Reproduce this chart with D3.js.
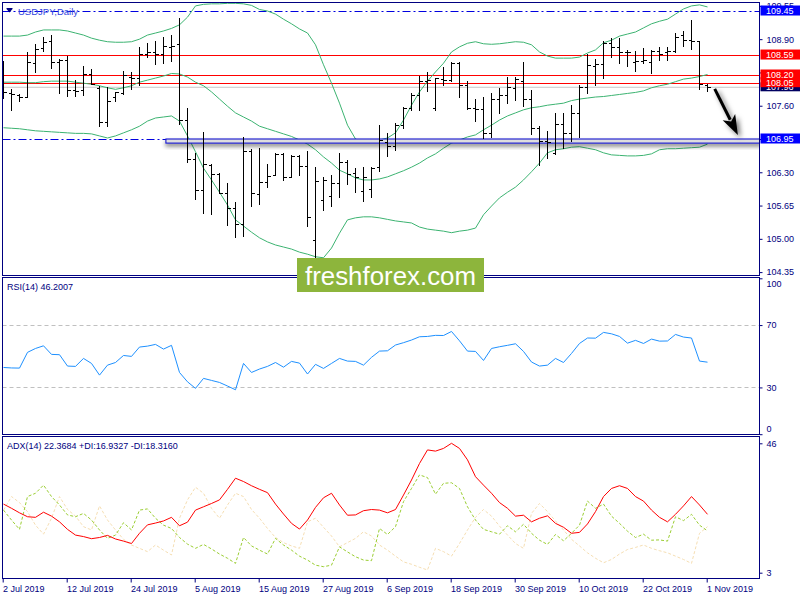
<!DOCTYPE html>
<html><head><meta charset="utf-8">
<script src="https://cdn.jsdelivr.net/npm/d3@7"></script>
<style>
body{margin:0;background:#fff}
svg{display:block}
text{font-family:"Liberation Sans",Arial,sans-serif}
</style>
</head><body>
<svg id="c" width="800" height="600"></svg>
<script>
// ---------------- DATA ----------------
const symbolTitle = "USDJPY,Daily";
const tickIdx = [0, 8, 16, 24, 32, 40, 48, 56, 64, 72, 80, 88];
const tickLabels = ["2 Jul 2019","12 Jul 2019","24 Jul 2019","5 Aug 2019","15 Aug 2019","27 Aug 2019",
  "6 Sep 2019","18 Sep 2019","30 Sep 2019","10 Oct 2019","22 Oct 2019","1 Nov 2019"];

const open = [108.30,107.84,107.80,107.78,108.44,108.73,108.86,108.45,108.49,107.91,
  107.90,108.22,107.94,107.28,107.78,107.84,108.16,108.15,108.62,108.64,
  108.61,108.75,108.81,107.33,106.55,105.95,106.44,106.27,105.90,105.60,
  105.29,106.72,105.87,106.11,106.25,106.66,106.21,106.62,106.42,104.97,
  105.76,105.84,106.10,106.51,106.28,105.93,105.97,106.40,106.90,106.81,
  107.22,107.55,107.80,108.09,107.56,108.12,108.10,108.43,108.00,107.55,
  107.54,107.07,107.74,107.81,107.94,108.09,107.73,107.16,106.91,106.67,
  107.24,107.07,107.46,107.96,108.38,108.42,108.83,108.75,108.64,108.45,
  108.47,108.46,108.67,108.64,108.67,108.98,108.88,108.86,108.00];
const high = [108.47,107.92,107.82,108.64,108.81,108.94,108.98,108.51,108.58,108.10,
  108.37,108.32,107.99,107.96,107.87,108.28,108.25,108.75,108.83,108.87,
  108.95,108.99,109.31,107.55,106.67,107.08,106.46,106.29,106.09,105.71,
  106.98,106.75,106.78,106.46,106.68,106.67,106.64,106.64,106.72,106.40,
  106.21,106.25,106.68,106.54,106.38,106.41,106.41,107.22,107.07,107.26,
  107.57,107.84,108.18,108.25,108.15,108.36,108.46,108.46,108.09,107.74,
  107.78,107.85,107.94,108.17,108.17,108.46,107.91,107.20,107.11,107.45,
  107.45,107.61,108.00,108.62,108.51,108.87,108.92,108.92,108.69,108.66,
  108.73,108.69,108.75,108.74,109.03,109.06,109.27,108.86,108.02];
const low = [107.74,107.50,107.68,107.76,108.25,108.66,108.33,107.84,107.78,107.78,
  107.80,108.02,107.19,107.19,107.68,107.81,107.91,108.00,108.55,108.41,
  108.42,108.46,107.24,106.49,105.77,105.50,105.48,105.89,105.26,105.02,
  105.04,105.63,105.68,106.01,106.23,106.14,106.20,106.23,105.24,104.62,
  105.56,105.63,105.81,106.07,105.91,105.73,105.81,106.31,106.60,106.73,
  107.16,107.50,107.50,107.87,107.50,108.00,108.07,107.76,107.52,107.29,
  106.96,106.98,107.45,107.65,107.70,107.59,107.03,106.44,106.57,106.64,
  106.77,106.90,106.97,107.83,108.00,108.13,108.55,108.43,108.36,108.27,
  108.43,108.23,108.48,108.48,108.64,108.75,108.70,107.92,107.87];
const close = [107.87,107.83,107.78,108.45,108.70,108.85,108.46,108.49,107.91,107.89,
  108.22,108.03,107.28,107.69,107.87,108.20,108.14,108.61,108.65,108.61,
  108.77,108.77,107.33,106.55,105.95,106.46,106.27,105.90,105.60,105.29,
  106.72,105.89,106.11,106.23,106.66,106.21,106.62,106.42,105.42,106.12,
  106.15,106.10,106.51,106.27,106.20,106.21,106.38,106.93,106.81,107.22,
  107.55,107.80,108.09,108.10,108.14,108.10,108.43,108.00,107.55,107.54,
  107.07,107.74,107.81,107.96,108.12,107.73,107.16,106.91,106.90,107.24,
  107.07,107.46,107.96,108.40,108.42,108.83,108.74,108.64,108.65,108.47,
  108.49,108.67,108.61,108.66,108.94,108.88,108.87,108.02,107.96];

const bbUpper = [108.96,108.96,108.96,108.98,109.04,109.08,109.08,109.08,109.06,109.02,
  108.98,108.92,108.88,108.85,108.84,108.84,108.85,108.90,108.98,109.02,
  109.06,109.11,109.18,109.33,109.55,109.58,109.59,109.59,109.60,109.60,
  109.59,109.56,109.48,109.45,109.39,109.29,109.20,109.10,109.02,108.79,
  108.40,108.04,107.65,107.22,106.95,106.89,106.91,106.93,106.97,107.07,
  107.32,107.61,107.87,108.08,108.26,108.43,108.65,108.75,108.82,108.85,
  108.81,108.80,108.81,108.83,108.85,108.84,108.79,108.65,108.57,108.53,
  108.53,108.53,108.55,108.63,108.69,108.83,108.88,108.96,109.00,109.04,
  109.12,109.20,109.25,109.29,109.39,109.49,109.55,109.57,109.53];
const bbMiddle = [108.06,108.06,108.06,108.05,108.05,108.07,108.08,108.08,108.08,108.06,
  108.04,108.02,107.99,107.95,107.92,107.95,107.99,108.06,108.10,108.14,
  108.18,108.23,108.22,108.16,108.06,107.99,107.87,107.73,107.59,107.46,
  107.38,107.30,107.20,107.15,107.10,107.05,107.00,106.93,106.85,106.74,
  106.60,106.48,106.34,106.27,106.19,106.15,106.15,106.17,106.21,106.27,
  106.33,106.40,106.48,106.58,106.66,106.77,106.87,106.93,106.99,107.03,
  107.13,107.22,107.32,107.40,107.46,107.52,107.56,107.58,107.61,107.63,
  107.65,107.70,107.73,107.75,107.77,107.78,107.80,107.82,107.84,107.86,
  107.89,107.95,107.99,108.02,108.07,108.12,108.14,108.17,108.21];
const bbLower = [107.17,107.16,107.15,107.13,107.11,107.10,107.09,107.08,107.07,107.06,
  107.06,107.05,107.01,106.97,107.01,107.07,107.13,107.20,107.30,107.36,
  107.38,107.40,107.30,107.01,106.70,106.38,106.15,105.91,105.66,105.37,
  105.25,105.13,105.02,104.94,104.88,104.84,104.80,104.74,104.70,104.65,
  104.63,104.82,105.11,105.37,105.41,105.43,105.43,105.41,105.38,105.35,
  105.33,105.31,105.23,105.19,105.17,105.15,105.12,105.15,105.17,105.21,
  105.47,105.64,105.80,105.91,106.01,106.15,106.31,106.48,106.68,106.74,
  106.76,106.79,106.80,106.77,106.74,106.68,106.64,106.63,106.62,106.62,
  106.63,106.66,106.74,106.76,106.76,106.77,106.78,106.79,106.85];

const rsi = [42.8,42.5,42.4,52.5,55.0,56.7,51.2,51.0,43.7,43.5,
  48.6,45.4,37.9,44.3,46.0,50.5,49.9,55.9,56.5,57.6,
  54.6,57.0,39.6,33.6,29.4,35.8,34.5,33.2,30.9,28.5,
  45.4,39.6,41.8,43.5,46.0,43.0,46.7,45.6,38.6,44.8,
  42.2,45.4,48.6,46.9,46.7,44.3,49.3,53.3,53.5,57.2,
  58.7,60.4,62.5,62.7,63.4,63.3,65.9,59.9,53.3,53.1,
  47.3,55.0,56.1,57.0,58.0,53.1,46.3,43.7,44.3,48.6,
  46.0,51.8,58.2,61.7,61.6,65.3,64.4,62.7,58.4,60.2,
  58.2,61.0,59.7,59.8,64.0,62.3,61.7,46.9,46.2];

const adx = [25.8,24.4,22.9,21.6,21.4,23.1,21.8,19.9,17.4,15.5,
  15.0,14.3,14.7,15.4,14.2,13.5,12.7,16.1,18.9,19.5,
  20.2,21.4,18.6,19.8,23.8,24.9,26.0,27.2,30.7,34.4,
  33.3,31.9,30.7,29.6,25.8,22.5,19.4,17.5,20.5,24.7,
  27.9,29.4,25.5,22.1,22.2,23.6,24.0,23.8,22.9,24.0,
  28.8,33.8,39.3,43.8,43.4,44.3,46.0,44.3,40.5,34.9,
  32.1,29.4,26.3,24.4,21.8,22.1,19.9,21.1,21.9,19.4,
  18.1,16.1,16.4,19.2,23.3,28.3,31.0,31.9,31.0,28.3,
  26.8,23.8,21.4,19.9,22.4,25.2,28.3,25.5,22.4];
const plusDI = [23.8,20.5,17.4,28.3,29.4,32.1,28.3,25.5,22.2,21.6,
  22.7,20.5,17.2,14.4,15.5,19.6,17.2,23.8,24.2,21.1,
  18.8,17.7,14.7,12.5,11.1,12.4,10.9,9.2,7.8,6.1,
  14.7,11.9,10.5,9.2,14.4,12.2,10.5,8.5,7.2,5.5,
  5.0,5.5,11.6,9.9,8.3,7.2,7.0,17.7,15.7,18.3,
  26.6,31.0,35.5,34.6,29.1,32.7,32.9,31.0,24.9,20.5,
  17.4,16.6,15.8,18.6,16.6,19.1,16.1,13.8,12.4,15.7,
  13.6,16.1,18.8,26.8,24.4,25.8,21.8,19.4,16.8,14.7,
  15.8,13.8,13.9,13.5,21.6,20.3,22.4,18.8,16.9];
const minusDI = [23.8,28.3,26.3,23.3,18.8,15.8,21.1,28.3,24.0,21.8,
  18.3,17.2,25.2,20.5,17.2,14.1,12.2,11.1,10.0,12.2,
  10.5,8.9,21.1,27.2,31.4,29.4,24.4,21.1,25.5,29.4,
  28.3,24.0,21.1,17.7,14.7,13.0,11.9,11.1,19.9,21.1,
  18.1,15.2,11.6,13.0,14.4,16.6,15.2,12.2,10.5,8.5,
  6.6,5.8,4.8,3.9,11.1,10.0,8.5,12.7,17.2,21.4,
  24.0,21.8,18.5,15.5,12.7,11.1,22.7,26.0,23.3,20.2,
  17.2,14.1,11.9,9.6,7.8,6.3,7.4,9.2,10.7,11.4,
  12.2,11.1,10.3,9.6,8.5,7.4,6.1,16.1,18.3];

const priceTicks = [104.35,105.00,105.65,106.30,106.95,107.60,108.25,108.90,109.55];
const rsiTicks = [0,30,70,100];
const rsiLevels = [30,70];
const adxTicks = [3,46];
const redLevels = [108.59,108.20,108.05];
const blueLevels = [109.45];
const supportLevel = 106.95;
const supportBottom = 106.87;
const supportFromBar = 20.3;
const bidPrice = 107.96;
const arrowFrom = [88.9, 107.93];
const arrowTo = [91.8, 107.03];
const rsiLabel = "RSI(14) 46.2007";
const adxLabel = "ADX(14) 22.3684 +DI:16.9327 -DI:18.3160";
const watermark = "freshforex.com";

// ---------------- LAYOUT ----------------
const NAVY = "#000080";
const L = 2.5, R = 759.5;
const main = {t: 2.5, b: 275.5};
const rp = {t: 277.5, b: 434.5};
const ap = {t: 436.5, b: 578.5};

const svg = d3.select("#c");
const defs = svg.append("defs");
const f1 = defs.append("filter").attr("id","sh").attr("x","-20%").attr("y","-50%").attr("width","140%").attr("height","300%");
f1.append("feDropShadow").attr("dx",0).attr("dy",3).attr("stdDeviation",2.2).attr("flood-color","#000").attr("flood-opacity",0.45);
const f2 = defs.append("filter").attr("id","ash").attr("x","-50%").attr("y","-50%").attr("width","200%").attr("height","200%");
f2.append("feDropShadow").attr("dx",3).attr("dy",3).attr("stdDeviation",2.5).attr("flood-color","#000").attr("flood-opacity",0.55);
defs.append("clipPath").attr("id","cm").append("rect").attr("x",L).attr("y",main.t).attr("width",R-L).attr("height",main.b-main.t);
defs.append("clipPath").attr("id","cr").append("rect").attr("x",L).attr("y",rp.t).attr("width",R-L).attr("height",rp.b-rp.t);
defs.append("clipPath").attr("id","ca").append("rect").attr("x",L).attr("y",ap.t).attr("width",R-L).attr("height",ap.b-ap.t);

const x = d3.scaleLinear().domain([0, 88]).range([3.5, 707.5]);
const yP = d3.scaleLinear().domain([104.274, 109.626]).range([276, 2]);
const yR = d3.scaleLinear().domain([0, 100]).range([434.2, 278.3]);
const yA = d3.scaleLinear().domain([3, 46]).range([572.7, 443.3]);
const idx = d3.range(open.length);

// ---------------- MAIN PANEL ----------------
const gm = svg.append("g").attr("clip-path","url(#cm)");

// bid line
gm.append("line").attr("x1",L).attr("x2",R).attr("y1",yP(bidPrice)).attr("y2",yP(bidPrice))
  .attr("stroke","#c8c8c8").attr("stroke-width",1);
// red levels
redLevels.forEach(v => gm.append("line").attr("x1",L).attr("x2",R).attr("y1",Math.round(yP(v))+0.5).attr("y2",Math.round(yP(v))+0.5)
  .attr("stroke","#ff0000").attr("stroke-width",1));
// blue dash-dot levels
blueLevels.forEach(v => gm.append("line").attr("x1",L).attr("x2",R).attr("y1",Math.round(yP(v))+0.5).attr("y2",Math.round(yP(v))+0.5)
  .attr("stroke","#0000e0").attr("stroke-width",1).attr("stroke-dasharray","8,3,2,3"));
gm.append("line").attr("x1",L).attr("x2",x(supportFromBar)).attr("y1",Math.round(yP(supportLevel))+0.5).attr("y2",Math.round(yP(supportLevel))+0.5)
  .attr("stroke","#0000e0").attr("stroke-width",1).attr("stroke-dasharray","8,3,2,3");

// Bollinger bands
const lineP = arr => d3.line().x(i => x(i)).y(i => yP(arr[i]))(idx);
[bbUpper, bbMiddle, bbLower].forEach(a => gm.append("path").attr("d", lineP(a))
  .attr("fill","none").attr("stroke","#3cb371").attr("stroke-width",1));

// support zone rectangle
gm.append("rect").attr("x",x(supportFromBar)).attr("y",yP(supportLevel)).attr("width",R+2-x(supportFromBar))
  .attr("height",yP(supportBottom)-yP(supportLevel)).attr("fill","#dedede").attr("stroke","#0000cd").attr("stroke-width",1)
  .attr("filter","url(#sh)");

// OHLC bars
const gb = gm.append("g").attr("stroke","#000").attr("stroke-width",1).attr("shape-rendering","crispEdges");
idx.forEach(i => {
  const xi = x(i);
  gb.append("line").attr("x1",xi).attr("x2",xi).attr("y1",yP(high[i])).attr("y2",yP(low[i])+0.5);
  gb.append("line").attr("x1",xi-3).attr("x2",xi).attr("y1",Math.round(yP(open[i]))+0.5).attr("y2",Math.round(yP(open[i]))+0.5);
  gb.append("line").attr("x1",xi).attr("x2",xi+3.5).attr("y1",Math.round(yP(close[i]))+0.5).attr("y2",Math.round(yP(close[i]))+0.5);
});

// arrow
{
  const p0 = [x(arrowFrom[0]), yP(arrowFrom[1])], p1 = [x(arrowTo[0]), yP(arrowTo[1])];
  const dx = p1[0]-p0[0], dy = p1[1]-p0[1], len = Math.hypot(dx,dy);
  const u = [dx/len, dy/len], n = [-u[1], u[0]];
  const hl = 20, hw = 7;
  const base = [p1[0]-u[0]*hl, p1[1]-u[1]*hl];
  const ga = svg.append("g").attr("filter","url(#ash)");
  ga.append("line").attr("x1",p0[0]).attr("y1",p0[1]).attr("x2",base[0]+u[0]*3).attr("y2",base[1]+u[1]*3)
    .attr("stroke","#000").attr("stroke-width",3);
  ga.append("path").attr("d", d3.line()([p1, [base[0]+n[0]*hw, base[1]+n[1]*hw], [base[0]+u[0]*5, base[1]+u[1]*5], [base[0]-n[0]*hw, base[1]-n[1]*hw]]) + "Z")
    .attr("fill","#000");
}

// title
svg.append("path").attr("d","M6.5,9 L12.5,9 L9.5,12.5 Z").attr("fill",NAVY);
svg.append("line").attr("x1",6.5).attr("x2",12.5).attr("y1",8.5).attr("y2",8.5).attr("stroke",NAVY);
svg.append("text").attr("x",18).attr("y",14.5).attr("font-size",9.5).attr("fill","#3344dd").text(symbolTitle);

// ---------------- RSI PANEL ----------------
const gr = svg.append("g").attr("clip-path","url(#cr)");
rsiLevels.forEach(v => gr.append("line").attr("x1",L).attr("x2",R).attr("y1",Math.round(yR(v))+0.5).attr("y2",Math.round(yR(v))+0.5)
  .attr("stroke","#c0c0c0").attr("stroke-dasharray","4,3"));
gr.append("path").attr("d", d3.line().x(i => x(i)).y(i => yR(rsi[i]))(idx))
  .attr("fill","none").attr("stroke","#1e90ff").attr("stroke-width",1);
svg.append("text").attr("x",7).attr("y",290).attr("font-size",9).attr("fill",NAVY).text(rsiLabel);

// ---------------- ADX PANEL ----------------
const ga2 = svg.append("g").attr("clip-path","url(#ca)");
const lineA = arr => d3.line().x(i => x(i)).y(i => yA(arr[i]))(idx);
ga2.append("path").attr("d", lineA(minusDI)).attr("fill","none").attr("stroke","#f5deb3").attr("stroke-width",1).attr("stroke-dasharray","3,2");
ga2.append("path").attr("d", lineA(plusDI)).attr("fill","none").attr("stroke","#9acd32").attr("stroke-width",1).attr("stroke-dasharray","3,2");
ga2.append("path").attr("d", lineA(adx)).attr("fill","none").attr("stroke","#ff0000").attr("stroke-width",1);
svg.append("text").attr("x",7).attr("y",448.5).attr("font-size",9).attr("fill",NAVY).text(adxLabel);

// ---------------- FRAMES ----------------
[main, rp, ap].forEach(p => svg.append("rect").attr("x",L).attr("y",p.t).attr("width",R-L).attr("height",p.b-p.t)
  .attr("fill","none").attr("stroke",NAVY).attr("stroke-width",1));

// ---------------- AXES ----------------
function styleAxis(g){
  g.select(".domain").remove();
  g.selectAll("line").attr("stroke",NAVY);
  g.selectAll("text").attr("fill",NAVY).attr("font-size",9).attr("font-family","'Liberation Sans',Arial,sans-serif");
}
svg.append("g").attr("transform",`translate(${R},0)`)
  .call(d3.axisRight(yP).tickValues(priceTicks).tickSize(3).tickPadding(4).tickFormat(d3.format(".2f")))
  .call(styleAxis);
svg.append("g").attr("transform",`translate(${R},0)`)
  .call(d3.axisRight(yR).tickValues(rsiTicks).tickSize(3).tickPadding(4).tickFormat(d3.format("d")))
  .call(styleAxis)
  .call(g => g.selectAll(".tick text").attr("dy", d => d === 100 ? "0.95em" : d === 0 ? "-0.3em" : "0.32em"));
svg.append("g").attr("transform",`translate(${R},0)`)
  .call(d3.axisRight(yA).tickValues(adxTicks).tickSize(3).tickPadding(4).tickFormat(d3.format("d")))
  .call(styleAxis);
svg.append("g").attr("transform",`translate(0,${ap.b})`)
  .call(d3.axisBottom(x).tickValues(tickIdx).tickSize(4).tickPadding(3).tickFormat((d,i) => tickLabels[i]))
  .call(styleAxis)
  .call(g => g.selectAll(".tick line").attr("transform","translate(-0.8,0)"))
  .call(g => g.selectAll(".tick text").attr("text-anchor","start").attr("dx",-1));

// price label boxes
function priceBox(v, color, h){
  const yc = yP(v);
  svg.append("rect").attr("x",R+1).attr("y",yc-h/2-0.5).attr("width",800-R).attr("height",h).attr("fill",color);
  svg.append("text").attr("x",766).attr("y",yc+3).attr("font-size",9).attr("fill","#fff").text(d3.format(".2f")(v));
}
priceBox(bidPrice, "#000060", 9);
priceBox(108.05, "#ff0000", 10);
priceBox(108.20, "#ff0000", 10);
priceBox(108.59, "#ff0000", 10);
priceBox(109.45, "#0000ff", 10);
priceBox(supportLevel, "#0000ff", 10);

// ---------------- WATERMARK ----------------
svg.append("rect").attr("x",297).attr("y",258).attr("width",187).attr("height",34).attr("fill","#8db53c");
svg.append("text").attr("x",390.5).attr("y",285).attr("text-anchor","middle")
  .attr("font-family","'Open Sans',sans-serif").attr("font-size",25).attr("fill","#fff")
  .attr("textLength",171).attr("lengthAdjust","spacingAndGlyphs").text(watermark);
</script>
</body></html>
